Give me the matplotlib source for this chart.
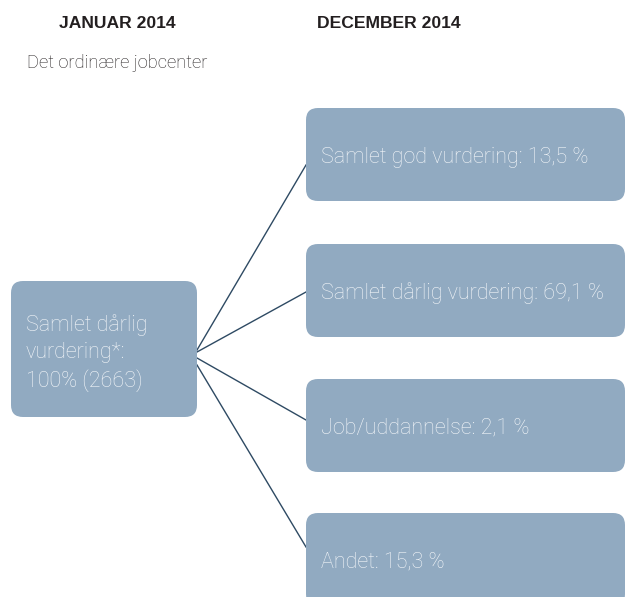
import matplotlib
matplotlib.use("Agg")
import matplotlib.pyplot as plt
from matplotlib.patches import FancyBboxPatch

# Data
headers = ["JANUAR 2014", "DECEMBER 2014"]
subtitle = "Det ordinære jobcenter"
source_label = "Samlet dårlig\nvurdering*:\n100% (2663)"
categories = ["Samlet god vurdering", "Samlet dårlig vurdering", "Job/uddannelse", "Andet"]
values = [13.5, 69.1, 2.1, 15.3]

def fmt(v):
    return f"{v:.1f}".replace(".", ",") + " %"

W, H = 626, 597
fig = plt.figure(figsize=(W / 100, H / 100), dpi=100)
ax = fig.add_axes([0, 0, 1, 1])
ax.set_xlim(0, W)
ax.set_ylim(H, 0)
ax.axis("off")

box_color = "#91aac1"
line_color = "#2e4a63"
text_color = "#f3f6f9"
dark = "#231f20"

# Headers
ax.text(117, 24, headers[0], ha="center", va="center", fontsize=12.6,
        fontweight="bold", family="Liberation Sans", color=dark)
ax.text(389, 24, headers[1], ha="center", va="center", fontsize=12.6,
        fontweight="bold", family="Liberation Sans", color=dark)
ax.text(27, 63, subtitle, ha="left", va="center", fontsize=13.2,
        fontweight="light", family="Roboto", color=dark)

# Left box
lx0, ly0, lx1, ly1 = 11, 281, 197, 417
ax.add_patch(FancyBboxPatch((lx0, ly0), lx1 - lx0, ly1 - ly0,
                            boxstyle="round,pad=0,rounding_size=12",
                            fc=box_color, ec="none", zorder=2))
ax.text(26, 353, source_label, ha="left", va="center", fontsize=15.5,
        fontweight="light", family="Roboto", color=text_color,
        linespacing=1.35, zorder=3)

# Right boxes
rx0, rx1 = 306, 625
box_tops = [108, 244, 379, 513]
box_h = 93
line_end_y = [165, 292, 420, 547]
line_start_y = [350, 352, 358, 365]
for i, (cat, val) in enumerate(zip(categories, values)):
    top = box_tops[i]
    ax.add_patch(FancyBboxPatch((rx0, top), rx1 - rx0, box_h,
                                boxstyle="round,pad=0,rounding_size=12",
                                fc=box_color, ec="none", zorder=2))
    ax.text(321, top + 49, f"{cat}: {fmt(val)}", ha="left", va="center",
            fontsize=15.5, fontweight="light", family="Roboto",
            color=text_color, zorder=3)
    ax.plot([lx1, rx0], [line_start_y[i], line_end_y[i]], color=line_color,
            lw=1.0, zorder=1)

fig.savefig("out.png", dpi=100)
